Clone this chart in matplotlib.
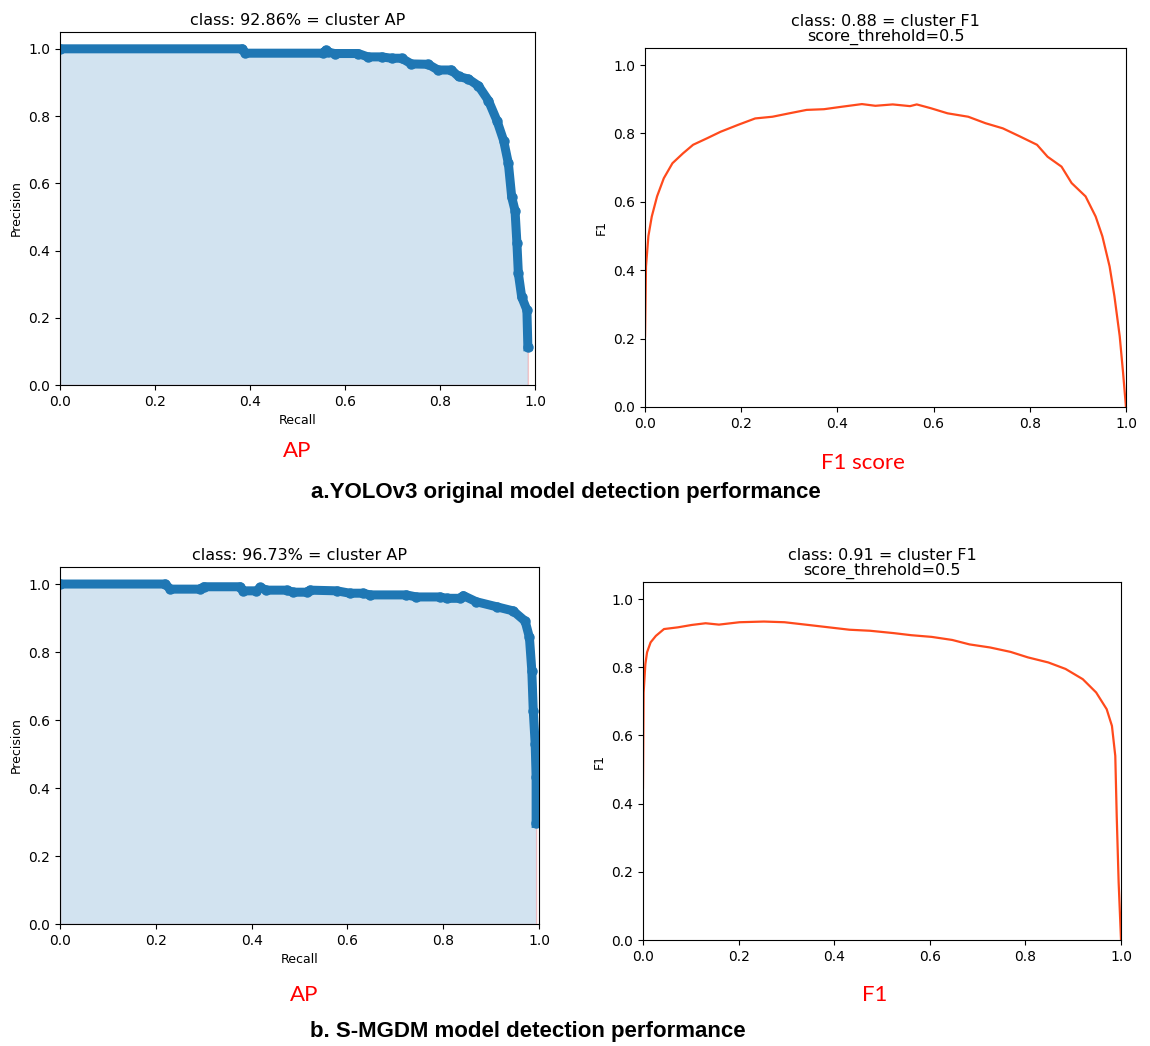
import matplotlib
matplotlib.use("Agg")
import matplotlib.pyplot as plt


# ============================================================
# 1) DATA (read off the reference picture)
# ============================================================

# a) YOLOv3 original model - precision / recall
rec_a = [0.0, 0.384, 0.39, 0.553, 0.56, 0.565, 0.578, 0.628, 0.648, 0.677,
         0.698, 0.719, 0.74, 0.775, 0.796, 0.824, 0.839, 0.860, 0.881, 0.902,
         0.920, 0.934, 0.944, 0.951, 0.958, 0.962, 0.965, 0.972, 0.983, 0.985]
prec_a = [1.0, 1.0, 0.987, 0.987, 0.996, 0.99, 0.986, 0.986, 0.976, 0.976,
          0.972, 0.972, 0.955, 0.954, 0.937, 0.937, 0.918, 0.91, 0.89, 0.846,
          0.786, 0.727, 0.659, 0.559, 0.519, 0.421, 0.332, 0.262, 0.223, 0.114]

# a) YOLOv3 original model - F1 vs score threshold
thr_a = [0.0, 0.002, 0.007, 0.014, 0.025, 0.039, 0.057, 0.079, 0.10, 0.129,
         0.157, 0.193, 0.229, 0.265, 0.30, 0.336, 0.372, 0.408, 0.451, 0.479,
         0.515, 0.551, 0.565, 0.594, 0.629, 0.672, 0.708, 0.744, 0.78, 0.815,
         0.837, 0.866, 0.887, 0.916, 0.937, 0.951, 0.966, 0.976, 0.987, 0.994, 1.0]
f1_a = [0.207, 0.411, 0.50, 0.557, 0.616, 0.669, 0.713, 0.742, 0.767, 0.786,
        0.805, 0.825, 0.844, 0.849, 0.859, 0.869, 0.871, 0.878, 0.886, 0.881,
        0.885, 0.880, 0.885, 0.874, 0.859, 0.849, 0.830, 0.815, 0.791, 0.767,
        0.732, 0.703, 0.655, 0.616, 0.557, 0.499, 0.411, 0.324, 0.207, 0.10, 0.0]

# b) S-MGDM model - precision / recall
rec_b = [0.0, 0.22, 0.23, 0.292, 0.30, 0.376, 0.382, 0.41, 0.418, 0.431,
         0.473, 0.487, 0.515, 0.522, 0.578, 0.605, 0.633, 0.647, 0.723, 0.744,
         0.793, 0.807, 0.835, 0.842, 0.869, 0.912, 0.946, 0.971, 0.980, 0.985,
         0.988, 0.992, 0.994, 0.994]
prec_b = [1.0, 1.0, 0.985, 0.985, 0.992, 0.992, 0.98, 0.98, 0.99, 0.982,
          0.982, 0.976, 0.976, 0.982, 0.98, 0.973, 0.973, 0.968, 0.968, 0.962,
          0.962, 0.958, 0.958, 0.966, 0.948, 0.933, 0.921, 0.891, 0.843, 0.745,
          0.628, 0.530, 0.432, 0.296]

# b) S-MGDM model - F1 vs score threshold
thr_b = [0.0, 0.0014, 0.005, 0.0086, 0.016, 0.027, 0.044, 0.073, 0.102, 0.131,
         0.159, 0.202, 0.253, 0.296, 0.346, 0.389, 0.432, 0.475, 0.525, 0.561,
         0.604, 0.647, 0.683, 0.726, 0.769, 0.805, 0.848, 0.884, 0.92, 0.948,
         0.97, 0.981, 0.988, 0.991, 0.995, 1.0]
f1_b = [0.447, 0.726, 0.809, 0.844, 0.873, 0.892, 0.912, 0.917, 0.924, 0.929,
        0.925, 0.932, 0.934, 0.932, 0.924, 0.917, 0.910, 0.907, 0.900, 0.894,
        0.889, 0.880, 0.867, 0.858, 0.845, 0.829, 0.814, 0.795, 0.765, 0.726,
        0.677, 0.628, 0.540, 0.364, 0.17, 0.0]

ap_titles = ["class: 92.86% = cluster AP", "class: 96.73% = cluster AP"]
f1_titles = ["class: 0.88 = cluster F1\nscore_threhold=0.5",
             "class: 0.91 = cluster F1\nscore_threhold=0.5"]
ap_tags = ["AP", "AP"]
f1_tags = ["F1 score", "F1"]
captions = ["a.YOLOv3 original model detection performance",
            "b. S-MGDM model detection performance"]


# ============================================================
# 2) FIGURE
# ============================================================

plt.rcParams["font.size"] = 10

fig = plt.figure(figsize=(11.5, 10.46), dpi=100)

# axes boxes in figure fraction: [left, bottom, width, height]
ap_boxes = [[0.0522, 0.6319, 0.4130, 0.3375], [0.0522, 0.1166, 0.4165, 0.3413]]
f1_boxes = [[0.5609, 0.6109, 0.4182, 0.3432], [0.5591, 0.1013, 0.4157, 0.3423]]

pr_data = [(rec_a, prec_a), (rec_b, prec_b)]
f1_data = [(thr_a, f1_a), (thr_b, f1_b)]


def plot_pr(ax, rec, prec, title):
    ax.plot(rec, prec, "-o", color="#1f77b4", linewidth=6.5, markersize=6.5)
    ax.fill_between(rec, 0, prec, alpha=0.2, edgecolor="r")
    ax.set_xlim(0.0, 1.0)
    ax.set_ylim(0.0, 1.05)
    ax.set_title(title, fontsize=11.5, pad=5)
    ax.set_xlabel("Recall", fontsize=9)
    ax.set_ylabel("Precision", fontsize=9)


def plot_f1(ax, thr, f1, title):
    ax.plot(thr, f1, color="#ff4a1c", linewidth=1.6)
    ax.set_xlim(0.0, 1.0)
    ax.set_ylim(0.0, 1.05)
    ax.set_title(title, fontsize=11.5, linespacing=1.0, pad=5)
    ax.set_ylabel("F1", fontsize=9)


for i in range(2):
    ax = fig.add_axes(ap_boxes[i])
    plot_pr(ax, pr_data[i][0], pr_data[i][1], ap_titles[i])

    ax = fig.add_axes(f1_boxes[i])
    plot_f1(ax, f1_data[i][0], f1_data[i][1], f1_titles[i])


# ============================================================
# 3) RED TAGS + CAPTIONS
# ============================================================

tag_pos = [((0.2583, 0.5688), (0.7504, 0.5574)), ((0.2643, 0.0488), (0.7609, 0.0488))]
cap_pos = [(0.492, 0.5296), (0.459, 0.0143)]

for i in range(2):
    fig.text(*tag_pos[i][0], ap_tags[i], color="red", fontsize=16,
             family="Lato", ha="center", va="center")
    fig.text(*tag_pos[i][1], f1_tags[i], color="red", fontsize=16,
             family="Lato", ha="center", va="center")
    fig.text(*cap_pos[i], captions[i], fontsize=16, fontweight="bold",
             family="Liberation Sans", ha="center", va="center")

fig.savefig("out.png", dpi=100)
